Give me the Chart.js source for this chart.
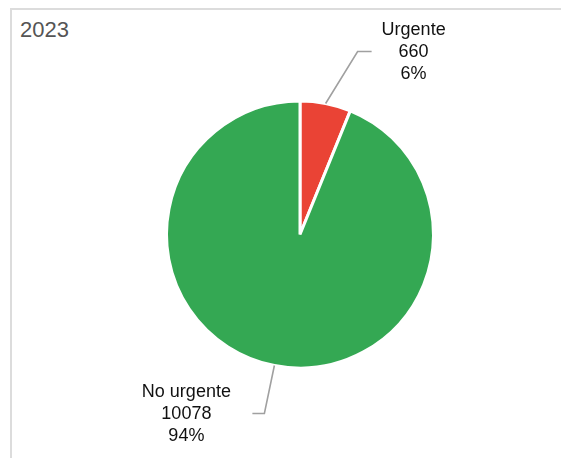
<!DOCTYPE html>
<html>
<head>
<meta charset="utf-8">
<script src="https://cdn.jsdelivr.net/npm/chart.js@4.4.1/dist/chart.umd.min.js"></script>
<style>
  html, body { margin:0; padding:0; background:#fff; }
  #wrap { position:relative; width:561px; height:458px; overflow:hidden; }
  #frame { position:absolute; left:10px; top:8px; right:-10px; bottom:-10px; border-top:2px solid #dcdcdc; border-left:2px solid #dcdcdc; }
  #title { position:absolute; left:20px; top:17px; font:22px "Liberation Sans", Arial, sans-serif; color:#555; }
  canvas { position:absolute; left:0; top:0; }
</style>
</head>
<body>
<div id="wrap">
  <div id="frame"></div>
  <div id="title">2023</div>
  <canvas id="pie" width="561" height="458"></canvas>
</div>
<script>
// data
const categories = ['Urgente', 'No urgente'];
const counts = [660, 10078];
const percents = ['6%', '94%'];
const sliceColors = ['#ea4335', '#34a853'];

// leader line / label placement, relative to the slice's outer edge point
const labelLayout = [
  { elbow:[32, -52], tail: 14, textDx: 42 },
  { elbow:[-10, 48], tail: -12, textDx: -66 }
];

const calloutLabels = {
  id: 'calloutLabels',
  afterDatasetsDraw(chart) {
    const ctx = chart.ctx;
    const arcs = chart.getDatasetMeta(0).data;
    ctx.save();
    arcs.forEach((arc, i) => {
      const p = arc.getProps(['x', 'y', 'startAngle', 'endAngle', 'outerRadius'], true);
      const mid = (p.startAngle + p.endAngle) / 2;
      const ex = p.x + Math.cos(mid) * p.outerRadius;
      const ey = p.y + Math.sin(mid) * p.outerRadius;
      const L = labelLayout[i];
      const bx = ex + L.elbow[0], by = ey + L.elbow[1];
      const tx = bx + L.tail;
      ctx.strokeStyle = '#a0a0a0';
      ctx.lineWidth = 1.6;
      ctx.beginPath();
      ctx.moveTo(ex, ey);
      ctx.lineTo(bx, by);
      ctx.lineTo(tx, by);
      ctx.stroke();

      ctx.fillStyle = '#111';
      ctx.font = '18px "Liberation Sans", Arial, sans-serif';
      ctx.textAlign = 'center';
      ctx.textBaseline = 'middle';
      const cx = tx + L.textDx;
      const lines = [categories[i], String(counts[i]), percents[i]];
      lines.forEach((t, k) => ctx.fillText(t, cx, by + 1 + (k - 1) * 22));
    });
    ctx.restore();
  }
};

new Chart(document.getElementById('pie').getContext('2d'), {
  type: 'pie',
  data: {
    labels: categories,
    datasets: [{ data: counts, backgroundColor: sliceColors, borderColor: '#fff', borderWidth: 3 }]
  },
  options: {
    responsive: false,
    animation: false,
    layout: { padding: { top: 99, bottom: 88, left: 165, right: 126 } },
    plugins: { legend: { display: false }, tooltip: { enabled: false } }
  },
  plugins: [calloutLabels]
});
</script>
</body>
</html>
